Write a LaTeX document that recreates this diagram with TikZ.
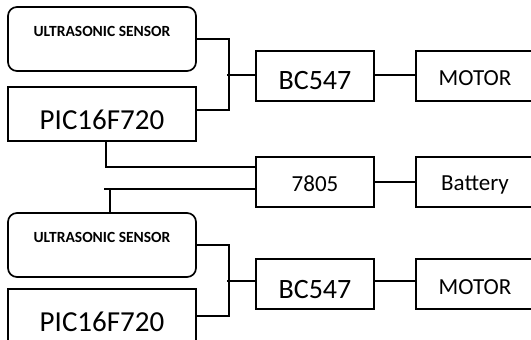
\documentclass[tikz,border=0pt]{standalone}
\usepackage{fontspec}
\setmainfont{Carlito}
\tikzset{
	sensorbox/.style={rectangle, rounded corners=9pt, draw=black, line width=1.7pt, minimum width=188pt, minimum height=64pt, inner sep=0pt, outer sep=0pt, align=center, font=\bfseries\fontsize{15.5}{16}\selectfont},
	chipbox/.style  ={rectangle, draw=black, line width=1.7pt, minimum width=188pt, minimum height=54pt, inner sep=0pt, outer sep=0pt, align=center, font=\fontsize{29}{30}\selectfont},
	partbox/.style  ={rectangle, draw=black, line width=1.7pt, minimum width=118pt, minimum height=50pt, inner sep=0pt, outer sep=0pt, align=center},
	% text sizes
	bigtxt/.style   ={font=\fontsize{28}{29}\selectfont},
	smalltxt/.style ={font=\fontsize{23}{24}\selectfont},
	wire/.style     ={line width=1.7pt, line cap=rect},
}

\begin{document}
\begin{tikzpicture}[x=1pt, y=-1pt]
	\useasboundingbox (0,0) rectangle (531,340);
	\clip (0,0) rectangle (531,340);
	% upper channel
	\node[sensorbox, text height=10pt, text depth=14pt] (sensA) at (102,39) {ULTRASONIC SENSOR};
	\node[chipbox, text height=31pt, text depth=0pt] (picA) at (102,114) {PIC16F720};
	\node[partbox, bigtxt, text height=27pt, text depth=0pt] (bcA) at (315,76) {BC547};
	\node[partbox, smalltxt, text height=18pt, text depth=0pt] (motorA) at (475,76) {MOTOR};
	% supply
	\node[partbox, smalltxt, text height=19pt, text depth=0pt] (reg) at (315,182) {7805};
	\node[partbox, smalltxt, text height=17pt, text depth=0pt] (batt) at (475,182) {Battery};
	% lower channel
	\node[sensorbox, text height=10pt, text depth=16pt] (sensB) at (102,245) {ULTRASONIC SENSOR};
	\node[chipbox, text height=30pt, text depth=0pt] (picB) at (102,316) {PIC16F720};
	\node[partbox, bigtxt, text height=28pt, text depth=0pt] (bcB) at (315,284) {BC547};
	\node[partbox, smalltxt, text height=21pt, text depth=0pt] (motorB) at (475,284) {MOTOR};

	\coordinate (tapA) at (229,75);
	\coordinate (tapR) at (105,189);
	\coordinate (tapB) at (229,281);

	\draw[wire] (sensA.east) -| (tapA) |- ([yshift=4pt]picA.east);
	\draw[wire] ([xshift=-1pt]tapA) -- (bcA.west |- tapA);
	\draw[wire] ([yshift=1pt]bcA.east) -- ([yshift=1pt]motorA.west);
	\draw[wire] ([xshift=4pt]picA.south) |- ([yshift=15pt]reg.west);
	\draw[wire] (tapR) -- (reg.west |- tapR);
	\draw[wire] ([xshift=8pt]sensB.north) -- ([xshift=5pt]tapR);
	\draw[wire] (reg.east) -- (batt.west);
	\draw[wire] (sensB.east) -| (tapB) |- (picB.east);
	\draw[wire] ([xshift=-1pt]tapB) -- (bcB.west |- tapB);
	\draw[wire] ([yshift=3pt]bcB.east) -- ([yshift=3pt]motorB.west);
\end{tikzpicture}
\end{document}
